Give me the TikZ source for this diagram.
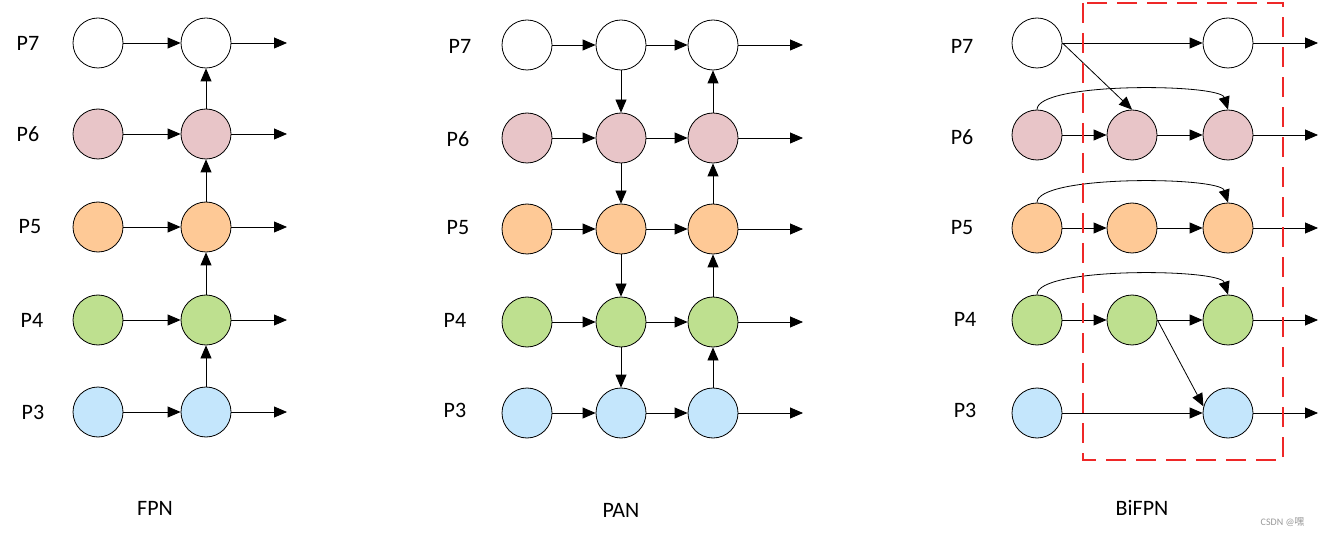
\documentclass[tikz,border=0pt]{standalone}
\usepackage{fontspec}
\setmainfont{Carlito}
\newfontfamily\cjk{Noto Sans CJK SC}
\usetikzlibrary{arrows.meta}
\definecolor{cpink}{RGB}{232,197,200}
\definecolor{corange}{RGB}{254,201,150}
\definecolor{cgreen}{RGB}{190,224,143}
\definecolor{cblue}{RGB}{196,230,252}
\definecolor{cred}{RGB}{238,40,40}
\begin{document}
\begin{tikzpicture}[x=1pt,y=-1pt,
  nd/.style={circle,draw=black,line width=0.8pt,minimum size=50pt,inner sep=0pt},
  w/.style={nd,fill=white},
  pk/.style={nd,fill=cpink},
  og/.style={nd,fill=corange},
  gr/.style={nd,fill=cgreen},
  bl/.style={nd,fill=cblue},
  lab/.style={font=\fontsize{22}{26}\selectfont},
  ttl/.style={font=\fontsize{22}{26}\selectfont},
  ar/.style={-{Triangle[length=13pt,width=11pt]},line width=0.8pt},
]
\useasboundingbox (0,0) rectangle (1322,537);
% ---------------- FPN
\foreach \n/\s/\y in {7/w/43,6/pk/134,5/og/227,4/gr/320,3/bl/412}{
  \node[\s] (fa\n) at (98,\y) {};
  \node[\s] (fb\n) at (206,\y) {};
  \coordinate (fo\n) at (287,\y);
  \draw[ar] (fa\n) -- (fb\n);
  \draw[ar] (fb\n) -- (fo\n);
}
\node[lab] (fl7) at (28,43) {P7};
\node[lab] (fl6) at (28,134) {P6};
\node[lab] (fl5) at (30,227) {P5};
\node[lab] (fl4) at (32,320) {P4};
\node[lab] (fl3) at (33,412) {P3};
\draw[ar] (fb3) -- (fb4);
\draw[ar] (fb4) -- (fb5);
\draw[ar] (fb5) -- (fb6);
\draw[ar] (fb6) -- (fb7);
\node[ttl] (ft) at (155,508) {FPN};
% ---------------- PAN
\foreach \n/\s/\y in {7/w/45,6/pk/138,5/og/229,4/gr/322,3/bl/413}{
  \node[\s] (pa\n) at (527,\y) {};
  \node[\s] (pb\n) at (621,\y) {};
  \node[\s] (pc\n) at (713,\y) {};
  \coordinate (po\n) at (803,\y);
  \draw[ar] (pa\n) -- (pb\n);
  \draw[ar] (pb\n) -- (pc\n);
  \draw[ar] (pc\n) -- (po\n);
}
\node[lab] (pl7) at (460,46) {P7};
\node[lab] (pl6) at (458,139) {P6};
\node[lab] (pl5) at (458,228) {P5};
\node[lab] (pl4) at (455,320) {P4};
\node[lab] (pl3) at (455,410) {P3};
\draw[ar] (pb7) -- (pb6);
\draw[ar] (pb6) -- (pb5);
\draw[ar] (pb5) -- (pb4);
\draw[ar] (pb4) -- (pb3);
\draw[ar] (pc3) -- (pc4);
\draw[ar] (pc4) -- (pc5);
\draw[ar] (pc5) -- (pc6);
\draw[ar] (pc6) -- (pc7);
\node[ttl] (pt) at (621,510) {PAN};
% ---------------- BiFPN
\foreach \n/\s/\y in {7/w/43,6/pk/135,5/og/228,4/gr/320,3/bl/413}{
  \node[\s] (ba\n) at (1037,\y) {};
  \node[\s] (bc\n) at (1228,\y) {};
  \coordinate (bo\n) at (1318,\y);
  \draw[ar] (bc\n) -- (bo\n);
}
\foreach \n/\s/\y in {6/pk/135,5/og/228,4/gr/320}{
  \node[\s] (bb\n) at (1132,\y) {};
  \draw[ar] (ba\n) -- (bb\n);
  \draw[ar] (bb\n) -- (bc\n);
  \draw[ar] (ba\n.north) .. controls +(0,-28) and +(-8,-26) .. (bc\n.north);
}
\draw[ar] (ba7) -- (bc7);
\draw[ar] (ba3) -- (bc3);
\draw[ar] (ba7.east) -- (bb6.north);
\draw[ar] (bb4.east) -- (bc3.165);
\node[lab] (bl7) at (962,46) {P7};
\node[lab] (bl6) at (962,137) {P6};
\node[lab] (bl5) at (962,228) {P5};
\node[lab] (bl4) at (965,319) {P4};
\node[lab] (bl3) at (965,410) {P3};
\draw[cred,line width=1.2pt,dash pattern=on 20pt off 10pt] (1083,3) rectangle (1283,460);
\node[ttl] (bt) at (1142,508) {BiFPN};
\node[font=\fontsize{10}{12}\selectfont,text=black!40,anchor=east] (wm) at (1308,522) {CSDN @{\cjk 嘿}};
\end{tikzpicture}
\end{document}
